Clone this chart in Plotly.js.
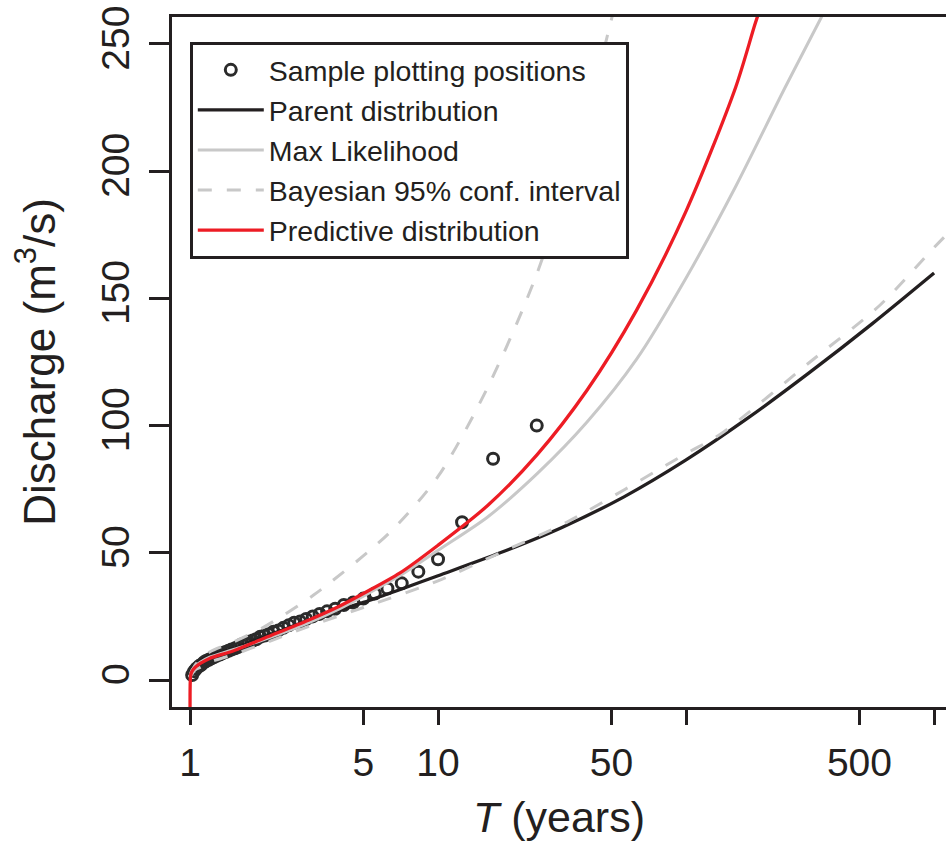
<!DOCTYPE html>
<html>
<head>
<meta charset="utf-8">
<script src="https://cdn.plot.ly/plotly-3.0.1.min.js"></script>
<style>
html,body{margin:0;padding:0;background:#fff;overflow:hidden;}
#chart{width:946px;height:844px;}
</style>
</head>
<body>
<div id="chart"></div>
<script>
// ---- data ----
// sample plotting positions (return period T, discharge Q)
const sampleT = [25, 16.67, 12.5, 10, 8.33, 7.14, 6.25, 5.56, 5, 4.55, 4.17, 3.85, 3.57, 3.33, 3.125, 2.94, 2.78, 2.63, 2.5, 2.38, 2.27, 2.17, 2.08, 2, 1.92, 1.85, 1.79, 1.72, 1.67, 1.61, 1.56, 1.52, 1.47, 1.43, 1.39, 1.35, 1.32, 1.28, 1.25, 1.22, 1.19, 1.16, 1.14, 1.11, 1.09, 1.06, 1.04, 1.02];
const sampleQ = [100, 87, 62, 47.5, 42.6, 38, 36, 34, 32, 30.5, 29.5, 28, 27, 26, 25, 24, 23, 22.5, 21.5, 20.5, 19.5, 19, 18, 17.5, 17, 16, 15.5, 15, 14.5, 14, 13, 12.5, 12, 11.5, 11, 10.5, 10, 9.5, 9, 8.5, 8, 7.5, 7, 6, 5.5, 4.5, 3.5, 2];

// parent distribution
const parentT = [1.005, 1.02, 1.05, 1.1, 1.2, 1.5, 2, 3, 5, 7, 10, 17.8, 31.6, 56.2, 100, 177.8, 316, 562, 1000];
const parentQ = [3, 4.5, 6, 7.5, 9.5, 12.5, 17, 23.5, 30.5, 35.5, 41, 50, 60, 72, 86.5, 103, 121, 140, 160];

// maximum likelihood
const mlT = [1.005, 1.02, 1.05, 1.1, 1.2, 1.5, 2, 3, 4, 5, 7, 10, 15.85, 25.1, 39.8, 63.1, 100, 158.5, 251, 347, 398];
const mlQ = [2.5, 4, 5.5, 7, 9, 12, 16, 22.5, 28, 33, 41, 51, 64.1, 81.1, 101.3, 126, 158, 194, 233, 259.5, 271];

// Bayesian 95% interval, upper bound
const upT = [1.005, 1.05, 1.1, 1.2, 1.5, 2, 3.16, 6.31, 10, 15.85, 25.1, 39.8, 50.1, 56.2];
const upQ = [2, 6, 8, 11, 15, 21, 33.5, 57.5, 80, 115, 160, 222, 260, 280];

// Bayesian 95% interval, lower bound
const loT = [1.005, 1.05, 1.1, 1.2, 1.5, 2, 3, 5, 10, 17.8, 33, 100, 137, 316, 606, 1000, 1122];
const loQ = [1.5, 4, 5, 7, 10, 14.5, 21, 28.5, 39, 50, 62, 89, 96.5, 125, 147.4, 170, 175];

// predictive distribution
const predT = [1.00001, 1.0005, 1.002, 1.005, 1.01, 1.02, 1.05, 1.1, 1.2, 1.5, 2, 3, 4, 5, 7, 10, 15.85, 25.1, 39.8, 63.1, 100, 158.5, 190, 210];
const predQ = [-30, -6, -1, 1.5, 2.5, 3.5, 5, 6.5, 8.5, 11.5, 16.5, 23.5, 29, 34, 42, 53, 68.6, 88.6, 113.8, 145.3, 184.3, 233, 258, 271];

const xTickVals = [1, 5, 10, 50, 500];
const xTickText = ["1", "5", "10", "50", "500"];
const xMinorTickVals = [100, 1000];
const yTickVals = [0, 50, 100, 150, 200, 250];

// ---- styling ----
const INK = '#231f20';
const GREY = '#c8c8c8';
const RED = '#ed1c24';
const FONT = 'Liberation Sans, Arial, Helvetica, sans-serif';
const lineShape = {shape: 'spline', smoothing: 0.8};

const traces = [
  {x: sampleT, y: sampleQ, type: 'scatter', mode: 'markers', name: 'Sample plotting positions',
   marker: {symbol: 'circle-open', size: 11, color: '#2b2b2b', line: {width: 3, color: '#2b2b2b'}}, legendrank: 1},
  {x: parentT, y: parentQ, type: 'scatter', mode: 'lines', name: 'Parent distribution',
   line: Object.assign({color: INK, width: 3.3}, lineShape), legendrank: 2},
  {x: mlT, y: mlQ, type: 'scatter', mode: 'lines', name: 'Max Likelihood',
   line: Object.assign({color: GREY, width: 3}, lineShape), legendrank: 3},
  {x: upT, y: upQ, type: 'scatter', mode: 'lines', name: 'Bayesian 95% conf. interval', legendgroup: 'bci',
   line: Object.assign({color: GREY, width: 3, dash: '14px,15px'}, lineShape), legendrank: 4},
  {x: loT, y: loQ, type: 'scatter', mode: 'lines', name: 'Bayesian 95% conf. interval', legendgroup: 'bci', showlegend: false,
   line: Object.assign({color: GREY, width: 3, dash: '14px,15px'}, lineShape)},
  {x: predT, y: predQ, type: 'scatter', mode: 'lines', name: 'Predictive distribution',
   line: Object.assign({color: RED, width: 3.3}, lineShape), legendrank: 5}
];

const layout = {
  width: 946, height: 844,
  margin: {l: 172, r: 0, t: 17, b: 137},
  paper_bgcolor: '#fff', plot_bgcolor: '#fff',
  font: {family: FONT, color: INK, size: 39},
  showlegend: true,
  legend: {
    x: 0.023, y: 0.964, xanchor: 'left', yanchor: 'top',
    bgcolor: '#fff', bordercolor: INK, borderwidth: 3,
    font: {family: FONT, size: 28.5, color: INK},
    itemwidth: 66, tracegroupgap: 0, traceorder: 'normal'
  },
  xaxis: {
    type: 'log', range: [-0.0726, 3.048],
    tickmode: 'array', tickvals: xTickVals, ticktext: xTickText,
    ticks: 'outside', ticklen: 15, tickwidth: 3, tickcolor: INK,
    minor: {tickmode: 'array', tickvals: xMinorTickVals, ticks: 'outside', ticklen: 15, tickwidth: 3, tickcolor: INK, showgrid: false},
    showline: true, linecolor: INK, linewidth: 3, mirror: true,
    showgrid: false, zeroline: false,
    tickfont: {family: FONT, size: 39, color: INK},
    ticklabelstandoff: 4,
    title: {text: '<i>T</i> (years)', font: {family: FONT, size: 43, color: INK}, standoff: 20}
  },
  yaxis: {
    range: [-10.6, 260.6],
    tickmode: 'array', tickvals: yTickVals,
    ticks: 'outside', ticklen: 20, tickwidth: 3, tickcolor: INK,
    showline: true, linecolor: INK, linewidth: 3, mirror: false,
    showgrid: false, zeroline: false,
    tickangle: -90,
    tickfont: {family: FONT, size: 39, color: INK},
    ticklabelstandoff: 4,
    title: {text: 'Discharge (m<sup>3</sup>/s)', font: {family: FONT, size: 44, color: INK}, standoff: 26}
  }
};

Plotly.newPlot('chart', traces, layout, {displayModeBar: false, staticPlot: true});
</script>
</body>
</html>
